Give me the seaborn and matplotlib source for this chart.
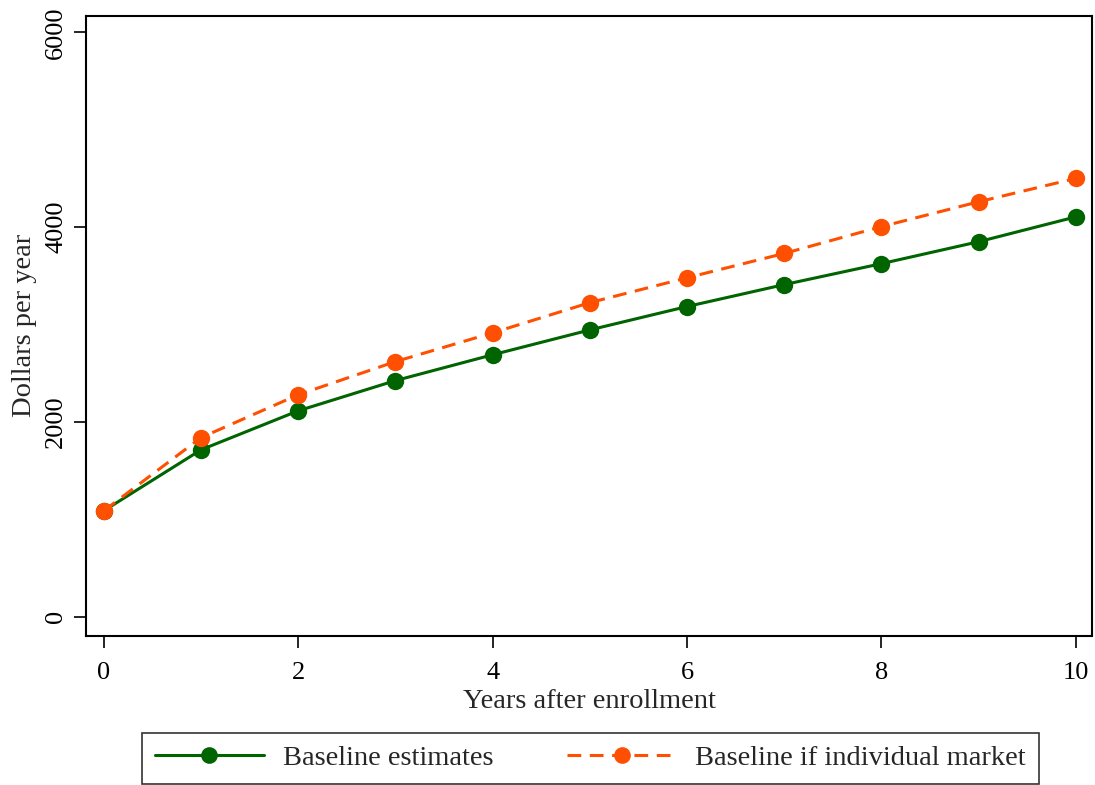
import matplotlib
matplotlib.use("Agg")
import matplotlib.pyplot as plt
import seaborn as sns
import pandas as pd
from matplotlib.lines import Line2D

years = [0, 1, 2, 3, 4, 5, 6, 7, 8, 9, 10]
baseline = [1090, 1715, 2115, 2425, 2690, 2945, 3185, 3410, 3625, 3850, 4105]
individual = [1090, 1840, 2280, 2620, 2915, 3225, 3480, 3730, 4005, 4260, 4500]
series_names = ["Baseline estimates", "Baseline if individual market"]
y_ticks = [0, 2000, 4000, 6000]
x_ticks = [0, 2, 4, 6, 8, 10]

sns.set_style("white")
plt.rcParams['font.family'] = ['Liberation Serif', 'DejaVu Serif']

df = pd.DataFrame({
    "Years": years * 2,
    "Dollars": baseline + individual,
    "Series": [series_names[0]] * len(years) + [series_names[1]] * len(years),
})

fig = plt.figure(figsize=(10.95, 7.85), dpi=100)
ax = fig.add_axes([0.0785, 0.19, 0.919, 0.79])

colors = {series_names[0]: "#006400", series_names[1]: "#FF4F00"}
sns.lineplot(data=df, x="Years", y="Dollars", hue="Series", style="Series",
             palette=colors, dashes={series_names[0]: "", series_names[1]: (4.5, 2.8)},
             markers={series_names[0]: "o", series_names[1]: "o"},
             markersize=12.5, markeredgewidth=0, linewidth=2.2, ax=ax, legend=False)

ax.set_xlim(-0.185, 10.17)
ax.set_ylim(-195, 6170)
ax.set_xticks(x_ticks)
ax.set_yticks(y_ticks)
ax.tick_params(axis="both", which="major", bottom=True, left=True, direction="out",
               length=8.5, width=1.2, labelsize=19, colors="black")
ax.tick_params(axis="x", pad=10)
ax.tick_params(axis="y", pad=5)
for lbl in ax.get_yticklabels():
    lbl.set_rotation(90)
    lbl.set_va("center")
ax.set_xlabel("Years after enrollment", fontsize=20.5, labelpad=4)
ax.set_ylabel("Dollars per year", fontsize=20.5, labelpad=6)
for s in ax.spines.values():
    s.set_visible(True)
    s.set_color("black")
    s.set_linewidth(1.5)

handles = [
    Line2D([0], [0], color=colors[series_names[0]], lw=2.2, marker="o", markersize=12, markeredgewidth=0),
    Line2D([0], [0], color=colors[series_names[1]], lw=2.2, ls=(0, (4.5, 2.8)), marker="o", markersize=12, markeredgewidth=0),
]
leg = fig.legend(handles, series_names, loc="lower center", bbox_to_anchor=(0.539, 0.001), ncol=2,
                 fontsize=20.5, frameon=True, fancybox=False, edgecolor="black",
                 handlelength=3.85, columnspacing=2.6, borderpad=0.45, handletextpad=0.65,
                 borderaxespad=0)
leg.get_frame().set_linewidth(1.2)

fig.savefig("out.png", dpi=100, facecolor="white")
